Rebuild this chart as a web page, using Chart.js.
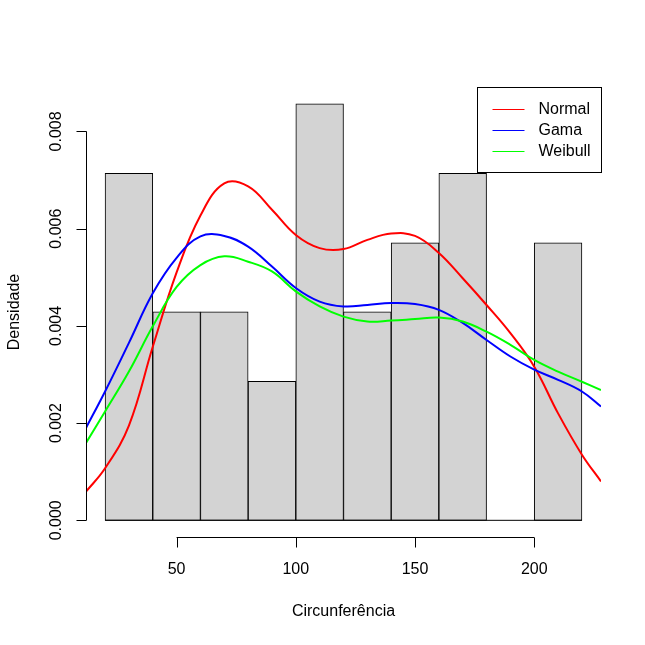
<!DOCTYPE html>
<html>
<head>
<meta charset="utf-8">
<script src="https://cdn.jsdelivr.net/npm/chart.js@4/dist/chart.umd.min.js"></script>
<style>
  html, body { margin: 0; padding: 0; background: #fff; }
  canvas { display: block; }
</style>
</head>
<body>
<canvas id="histChart" width="645" height="645"></canvas>
<script>
// Histograma (classes de 20 em 20)
const breaks = [20, 40, 60, 80, 100, 120, 140, 160, 180, 200, 220];
const densities = [0.00714, 0.00429, 0.00429, 0.00286, 0.00857, 0.00429, 0.00571, 0.00714, 0, 0.00571];

// Curvas ajustadas
const curveX = [12, 20, 30, 40, 50, 60, 70, 80, 90, 100, 110, 120, 130, 140, 150, 160, 170, 180, 190, 200, 210, 220, 228];
const normalY = [0.00059, 0.00107, 0.00195, 0.00357, 0.0051, 0.00627, 0.00693, 0.00687, 0.00639, 0.00587, 0.0056, 0.00558, 0.00577, 0.0059, 0.00585, 0.0055, 0.00498, 0.00443, 0.00385, 0.00316, 0.0022, 0.00135, 0.0008];
const gamaY = [0.0019, 0.00265, 0.00365, 0.00467, 0.0054, 0.00584, 0.00585, 0.00563, 0.00522, 0.00478, 0.0045, 0.0044, 0.00443, 0.00447, 0.00445, 0.00433, 0.00406, 0.00371, 0.00337, 0.0031, 0.00289, 0.00265, 0.00234];
const weibullY = [0.00159, 0.00224, 0.00306, 0.00399, 0.0048, 0.00525, 0.00543, 0.00532, 0.00512, 0.00471, 0.0044, 0.00419, 0.00409, 0.00411, 0.00414, 0.00417, 0.00409, 0.00388, 0.00361, 0.0033, 0.00306, 0.00285, 0.00268];

// Eixos
const xTicks = [50, 100, 150, 200];
const yTicks = [0, 0.002, 0.004, 0.006, 0.008];
const yTickLabels = ['0.000', '0.002', '0.004', '0.006', '0.008'];
const legendLabels = ['Normal', 'Gama', 'Weibull'];
const legendColors = ['#FF0000', '#0000FF', '#00FF00'];

const FONT = '16px "Liberation Sans", Arial, sans-serif';

const mids = densities.map((d, i) => (breaks[i] + breaks[i + 1]) / 2);

function curve(ys) {
    return curveX.map((x, i) => ({ x: x, y: ys[i] }));
}

// Eixos, títulos e legenda no estilo do R
const rAxes = {
    id: 'rAxes',
    afterDraw(chart) {
        const ctx = chart.ctx;
        const area = chart.chartArea;
        const xs = chart.scales.x;
        const ys = chart.scales.y;
        ctx.save();
        ctx.strokeStyle = '#000';
        ctx.fillStyle = '#000';
        ctx.lineWidth = 1;
        ctx.font = FONT;

        // eixo x
        const yb = Math.round(area.bottom) + 0.5;
        ctx.beginPath();
        ctx.moveTo(xs.getPixelForValue(xTicks[0]), yb);
        ctx.lineTo(xs.getPixelForValue(xTicks[xTicks.length - 1]), yb);
        xTicks.forEach(t => {
            const px = Math.round(xs.getPixelForValue(t)) + 0.5;
            ctx.moveTo(px, yb);
            ctx.lineTo(px, yb + 10);
        });
        ctx.stroke();
        ctx.textAlign = 'center';
        ctx.textBaseline = 'middle';
        xTicks.forEach(t => {
            ctx.fillText(String(t), xs.getPixelForValue(t), area.bottom + 33);
        });
        ctx.fillText('Circunferência', (area.left + area.right) / 2, area.bottom + 75);

        // eixo y
        const xl = Math.round(area.left) + 0.5;
        ctx.beginPath();
        ctx.moveTo(xl, ys.getPixelForValue(yTicks[0]));
        ctx.lineTo(xl, ys.getPixelForValue(yTicks[yTicks.length - 1]));
        yTicks.forEach(t => {
            const py = Math.round(ys.getPixelForValue(t)) + 0.5;
            ctx.moveTo(xl, py);
            ctx.lineTo(xl - 10, py);
        });
        ctx.stroke();
        yTicks.forEach((t, i) => {
            ctx.save();
            ctx.translate(area.left - 29, ys.getPixelForValue(t));
            ctx.rotate(-Math.PI / 2);
            ctx.fillText(yTickLabels[i], 0, 0);
            ctx.restore();
        });
        ctx.save();
        ctx.translate(area.left - 71, (area.top + area.bottom) / 2);
        ctx.rotate(-Math.PI / 2);
        ctx.fillText('Densidade', 0, 0);
        ctx.restore();

        // legenda (topright)
        const w = 124, h = 85;
        const lx = Math.round(area.right - w) + 0.5;
        const ly = Math.round(area.top) + 0.5;
        ctx.fillStyle = '#fff';
        ctx.fillRect(lx, ly, w, h);
        ctx.strokeStyle = '#000';
        ctx.strokeRect(lx, ly, w, h);
        ctx.textAlign = 'left';
        legendLabels.forEach((lab, i) => {
            const yy = Math.round(ly + 21 + i * 21) + 0.5;
            ctx.strokeStyle = legendColors[i];
            ctx.beginPath();
            ctx.moveTo(lx + 15, yy);
            ctx.lineTo(lx + 47, yy);
            ctx.stroke();
            ctx.fillStyle = '#000';
            ctx.fillText(lab, lx + 61, yy);
        });
        ctx.restore();
    }
};

const ctx = document.getElementById('histChart').getContext('2d');
new Chart(ctx, {
    data: {
        datasets: [
            {
                type: 'line',
                label: 'Normal',
                data: curve(normalY),
                borderColor: legendColors[0],
                borderWidth: 2,
                pointRadius: 0,
                tension: 0.4,
                order: 2
            },
            {
                type: 'line',
                label: 'Gama',
                data: curve(gamaY),
                borderColor: legendColors[1],
                borderWidth: 2,
                pointRadius: 0,
                tension: 0.4,
                order: 1
            },
            {
                type: 'line',
                label: 'Weibull',
                data: curve(weibullY),
                borderColor: legendColors[2],
                borderWidth: 2,
                pointRadius: 0,
                tension: 0.4,
                order: 0
            },
            {
                type: 'line',
                label: 'base',
                data: [{ x: breaks[0], y: 0 }, { x: breaks[breaks.length - 1], y: 0 }],
                borderColor: '#000',
                borderWidth: 1,
                pointRadius: 0,
                order: 4
            },
            {
                type: 'bar',
                label: 'hist',
                data: mids.map((m, i) => ({ x: m, y: densities[i] })),
                backgroundColor: '#D3D3D3',
                borderColor: '#000',
                borderWidth: 1,
                borderSkipped: false,
                barPercentage: 1,
                categoryPercentage: 1,
                order: 5
            }
        ]
    },
    options: {
        responsive: false,
        animation: false,
        layout: { padding: { left: 86, right: 44, top: 87, bottom: 108 } },
        plugins: {
            legend: { display: false },
            tooltip: { enabled: false }
        },
        scales: {
            x: { type: 'linear', min: 12, max: 228, offset: false, display: false },
            y: { type: 'linear', min: -0.000343, max: 0.008914, display: false }
        }
    },
    plugins: [rAxes]
});
</script>
</body>
</html>
